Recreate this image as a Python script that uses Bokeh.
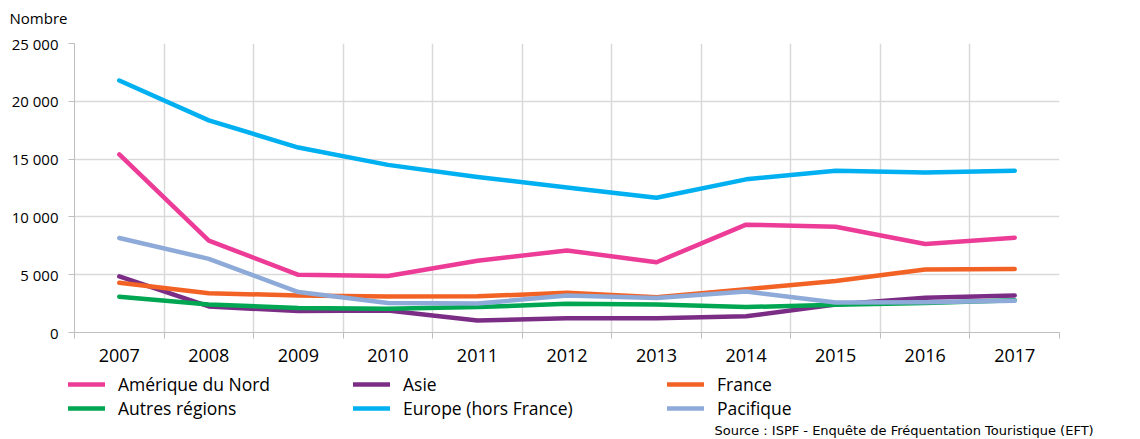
from bokeh.plotting import figure
from bokeh.layouts import column
from bokeh.models import FixedTicker, Legend, LegendItem, Label, Range1d
from bokeh.embed import file_html
from bokeh.resources import INLINE

years = ["2007", "2008", "2009", "2010", "2011", "2012", "2013", "2014", "2015", "2016", "2017"]

amerique_du_nord = [15400, 7950, 4990, 4880, 6200, 7100, 6080, 9330, 9150, 7650, 8200]
asie = [4850, 2250, 1850, 1900, 1040, 1230, 1240, 1400, 2420, 3000, 3200]
france = [4300, 3400, 3200, 3120, 3130, 3430, 3050, 3750, 4450, 5450, 5500]
autres_regions = [3100, 2420, 2130, 2050, 2200, 2480, 2420, 2200, 2400, 2560, 2800]
europe_hors_france = [21800, 18350, 16000, 14500, 13450, 12550, 11650, 13250, 14000, 13840, 14000]
pacifique = [8180, 6370, 3500, 2550, 2500, 3200, 2980, 3550, 2600, 2620, 2750]

series_names = ["Amérique du Nord", "Asie", "France", "Autres régions", "Europe (hors France)", "Pacifique"]
series_values = [amerique_du_nord, asie, france, autres_regions, europe_hors_france, pacifique]
series_colors = ["#EC3C97", "#7B2D85", "#F26224", "#00A651", "#00B0F0", "#8EAAD8"]
# legend columns (each column holds two rows)
legend_columns = [["Amérique du Nord", "Autres régions"],
                  ["Asie", "Europe (hors France)"],
                  ["France", "Pacifique"]]

y_ticks = [0, 5000, 10000, 15000, 20000, 25000]
y_tick_labels = ["0", "5 000", "10 000", "15 000", "20 000", "25 000"]

y_title = "Nombre"
source_text = "Source : ISPF - Enquête de Fréquentation Touristique (EFT)"

FONT = "Open Sans"
GRID = "#D9D9D9"
AXIS = "#BFBFBF"
W = 1140
xs = list(range(len(years)))


def blank(height):
    f = figure(width=W, height=height, output_backend="svg", toolbar_location=None,
               x_axis_location=None, y_axis_location=None, frame_align=False,
               x_range=Range1d(0, 1), y_range=Range1d(0, 1),
               min_border_left=0, min_border_right=0, min_border_top=0, min_border_bottom=0)
    f.outline_line_color = None
    f.grid.visible = False
    return f


# ---- top strip with the unit label
ptop = blank(30)
ptop.add_layout(Label(x=9, y=13, x_units="screen", y_units="screen", text=y_title,
                      text_font=FONT, text_font_size="15px", text_color="#000000",
                      text_baseline="middle", text_align="left"))

# ---- main chart
p = figure(width=W, height=342, output_backend="svg", toolbar_location=None, frame_align=False,
           x_range=Range1d(-0.5, len(years) - 0.5), y_range=Range1d(0, 25000),
           min_border_left=74, min_border_right=81, min_border_top=13, min_border_bottom=40)
p.outline_line_color = None

xt = FixedTicker(ticks=xs, minor_ticks=[i - 0.5 for i in range(len(years) + 1)])
p.xaxis.ticker = xt
p.xaxis.major_label_overrides = {i: y for i, y in enumerate(years)}
p.xaxis.major_tick_line_color = None
p.xaxis.minor_tick_in = 0
p.xaxis.minor_tick_out = 6
p.xaxis.minor_tick_line_color = AXIS
p.xaxis.axis_line_color = AXIS
p.xaxis.major_label_text_font = FONT
p.xaxis.major_label_text_font_size = "18px"
p.xaxis.major_label_text_color = "#000000"
p.xaxis.major_label_standoff = 10
p.xgrid.ticker = xt
p.xgrid.grid_line_color = None
p.xgrid.minor_grid_line_color = GRID
p.xgrid.minor_grid_line_width = 1.5

yt = FixedTicker(ticks=y_ticks, minor_ticks=[])
p.yaxis.ticker = yt
p.yaxis.major_label_overrides = {t: l for t, l in zip(y_ticks, y_tick_labels)}
p.yaxis.major_tick_in = 0
p.yaxis.major_tick_out = 6
p.yaxis.minor_tick_line_color = None
p.yaxis.major_tick_line_color = AXIS
p.yaxis.axis_line_color = AXIS
p.yaxis.major_label_text_font = FONT
p.yaxis.major_label_text_font_size = "15px"
p.yaxis.major_label_text_color = "#000000"
p.yaxis.major_label_standoff = 10
p.ygrid.grid_line_color = GRID
p.ygrid.grid_line_width = 1.5

for name, vals, col in zip(series_names, series_values, series_colors):
    p.line(xs, vals, line_color=col, line_width=4.5, line_cap="round", line_join="round")

# ---- bottom strip with legend and source
pbot = blank(67)
swatch = {}
for name, vals, col in zip(series_names, series_values, series_colors):
    # same series, far outside this strip's range: only its legend swatch shows
    swatch[name] = pbot.line(xs, vals, line_color=col, line_width=4.5, line_cap="round")

for names, x0 in zip(legend_columns, [68, 353, 667]):
    lg = Legend(items=[LegendItem(label=n, renderers=[swatch[n]]) for n in names],
                location=(x0, 19), orientation="vertical",
                label_text_font=FONT, label_text_font_size="17.5px", label_text_color="#000000",
                glyph_width=37, glyph_height=20, label_height=20, label_standoff=13,
                spacing=0, padding=0, margin=0, border_line_color=None,
                background_fill_alpha=0)
    pbot.add_layout(lg, "center")

pbot.add_layout(Label(x=714, y=9, x_units="screen", y_units="screen", text=source_text,
                      text_font="DejaVu Sans", text_font_size="13px", text_color="#000000",
                      text_baseline="middle", text_align="left"))

layout = column(ptop, p, pbot, spacing=0)
open("out.html", "w").write(file_html(layout, INLINE))
